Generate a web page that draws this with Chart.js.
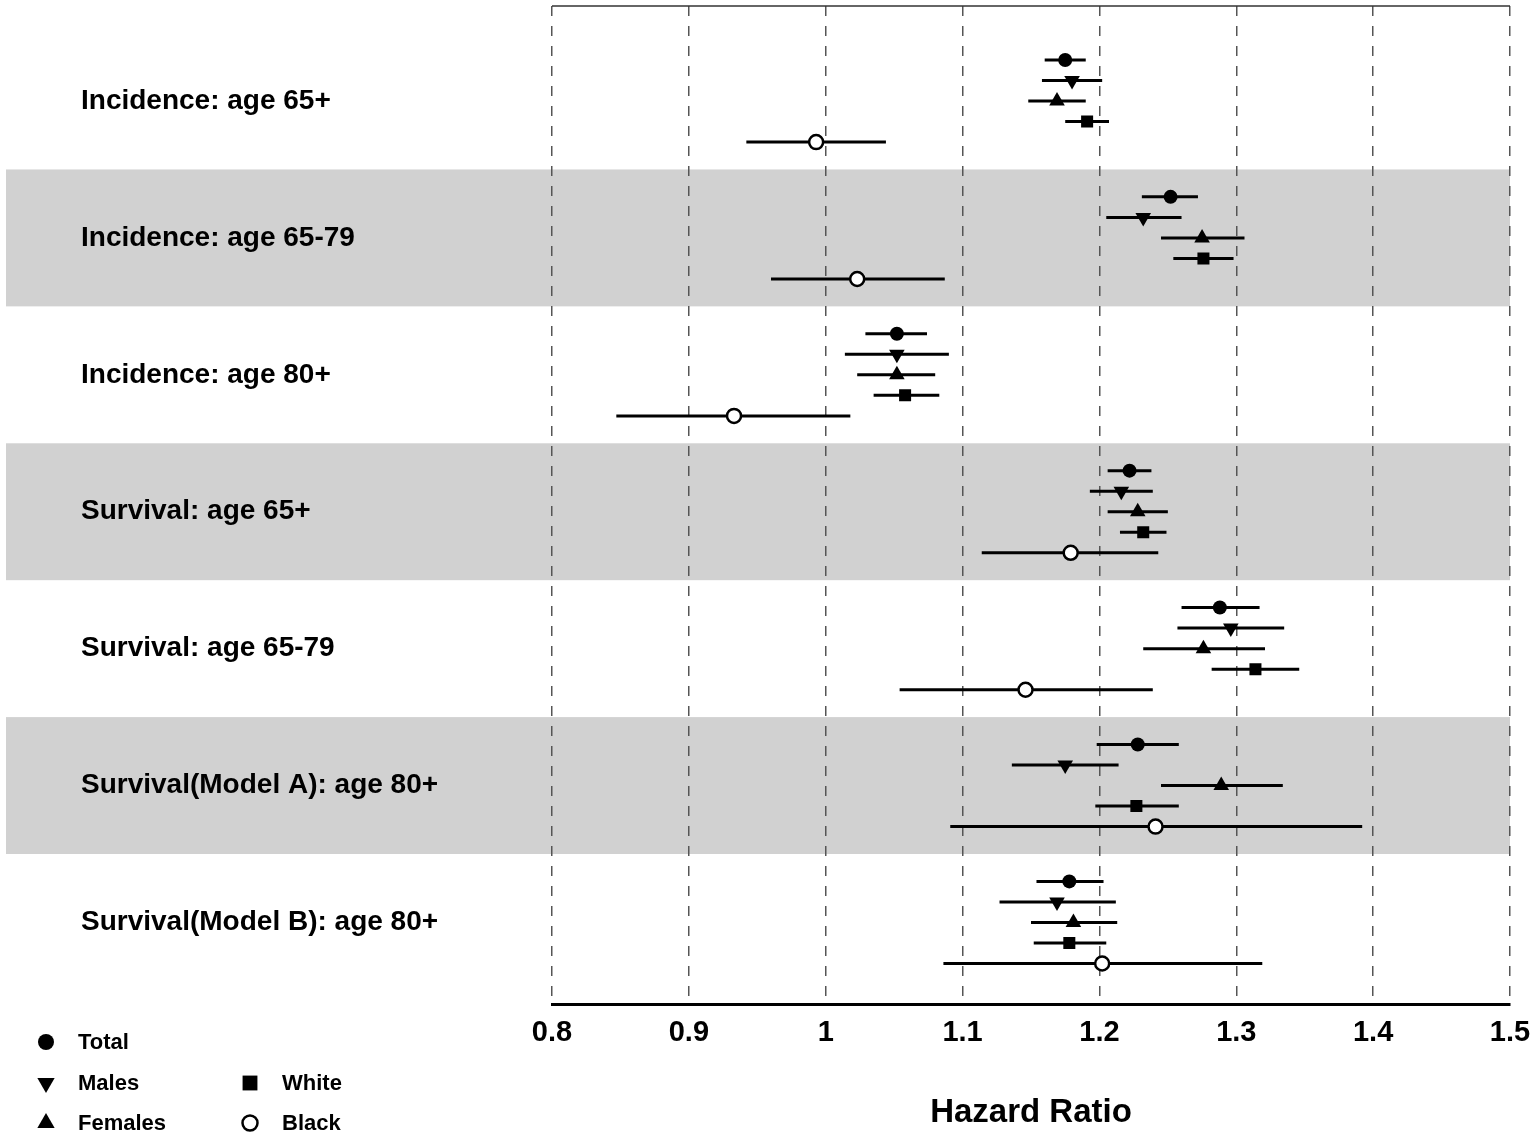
<!DOCTYPE html>
<html>
<head>
<meta charset="utf-8">
<title>Hazard Ratio</title>
<script src="https://cdn.jsdelivr.net/npm/chart.js@4.4.1/dist/chart.umd.min.js"></script>
<style>
    html, body { margin: 0; padding: 0; background: #fff; }
    #wrap { width: 1535px; height: 1139px; position: relative; }
</style>
</head>
<body>
<div id="wrap"><canvas id="myChart"></canvas></div>
<script>
// groups, top to bottom
const groups = [
    'Incidence: age 65+',
    'Incidence: age 65-79',
    'Incidence: age 80+',
    'Survival: age 65+',
    'Survival: age 65-79',
    'Survival(Model A): age 80+',
    'Survival(Model B): age 80+'
]
const xTicks = [0.8, 0.9, 1.0, 1.1, 1.2, 1.3, 1.4, 1.5]

const totalHR = [1.175, 1.252, 1.052, 1.222, 1.288, 1.228, 1.178]
const totalLo = [1.160, 1.231, 1.029, 1.206, 1.260, 1.198, 1.154]
const totalHi = [1.190, 1.272, 1.074, 1.238, 1.317, 1.258, 1.203]

const malesHR = [1.180, 1.232, 1.052, 1.216, 1.296, 1.175, 1.169]
const malesLo = [1.158, 1.205, 1.014, 1.193, 1.257, 1.136, 1.127]
const malesHi = [1.202, 1.260, 1.090, 1.239, 1.335, 1.214, 1.212]

const femalesHR = [1.169, 1.275, 1.052, 1.228, 1.276, 1.289, 1.181]
const femalesLo = [1.148, 1.245, 1.023, 1.206, 1.232, 1.245, 1.150]
const femalesHi = [1.190, 1.306, 1.080, 1.250, 1.321, 1.334, 1.213]

const whiteHR = [1.191, 1.276, 1.058, 1.232, 1.314, 1.227, 1.178]
const whiteLo = [1.175, 1.254, 1.035, 1.215, 1.282, 1.197, 1.152]
const whiteHi = [1.207, 1.298, 1.083, 1.249, 1.346, 1.258, 1.205]

const blackHR = [0.993, 1.023, 0.933, 1.179, 1.146, 1.241, 1.202]
const blackLo = [0.942, 0.960, 0.847, 1.114, 1.054, 1.091, 1.086]
const blackHi = [1.044, 1.087, 1.018, 1.243, 1.239, 1.392, 1.319]

const FONT = '"Liberation Sans", Arial, Helvetica, sans-serif'

// marker style + vertical offset inside a group (lr = legend marker radius)
const series = [
    {label: 'Total',   hr: totalHR,   lo: totalLo,   hi: totalHi,   off: -0.3,  style: 'circle',   rot: 0,   r: 7,   lr: 8,    fill: '#000', bw: 0,   col: 0, row: 0},
    {label: 'Males',   hr: malesHR,   lo: malesLo,   hi: malesHi,   off: -0.15, style: 'triangle', rot: 180, r: 9,   lr: 10,   fill: '#000', bw: 0,   col: 0, row: 1},
    {label: 'Females', hr: femalesHR, lo: femalesLo, hi: femalesHi, off: 0,     style: 'triangle', rot: 0,   r: 9,   lr: 10,   fill: '#000', bw: 0,   col: 0, row: 2},
    {label: 'White',   hr: whiteHR,   lo: whiteLo,   hi: whiteHi,   off: 0.15,  style: 'rect',     rot: 0,   r: 8.5, lr: 10.5, fill: '#000', bw: 0,   col: 1, row: 1},
    {label: 'Black',   hr: blackHR,   lo: blackLo,   hi: blackHi,   off: 0.3,   style: 'circle',   rot: 0,   r: 7,   lr: 7.5,  fill: '#fff', bw: 2.5, col: 1, row: 2}
]

const datasets = []
series.forEach(s => {
    // whiskers: one line dataset per series, broken with gaps
    const ci = []
    groups.forEach((g, i) => {
        ci.push({x: s.lo[i], y: i + 1 + s.off})
        ci.push({x: s.hi[i], y: i + 1 + s.off})
        ci.push({x: null, y: null})
    })
    datasets.push({
        type: 'line',
        label: s.label + ' CI',
        data: ci,
        borderColor: '#000',
        borderWidth: 3,
        pointRadius: 0,
        spanGaps: false,
        order: 2
    })
    datasets.push({
        type: 'scatter',
        label: s.label,
        data: s.hr.map((v, i) => ({x: v, y: i + 1 + s.off})),
        pointStyle: s.style,
        rotation: s.rot,
        pointRadius: s.r,
        pointHoverRadius: s.r,
        backgroundColor: s.fill,
        borderColor: '#000',
        borderWidth: s.bw,
        order: 1
    })
})

// grey bands behind every second group
const bands = {
    id: 'bands',
    beforeDraw(chart) {
        const {ctx, chartArea, scales: {y}} = chart
        ctx.save()
        ctx.fillStyle = '#d1d1d1'
        for (let g = 2; g <= groups.length; g += 2) {
            const top = y.getPixelForValue(g - 0.5)
            const bot = y.getPixelForValue(g + 0.5)
            ctx.fillRect(6, top, chartArea.right - 6, bot - top)
        }
        ctx.restore()
    },
    afterDraw(chart) {
        // thin frame line on top
        const {ctx, chartArea} = chart
        ctx.save()
        ctx.strokeStyle = '#333'
        ctx.lineWidth = 1.5
        ctx.beginPath()
        ctx.moveTo(chartArea.left, chartArea.top)
        ctx.lineTo(chartArea.right, chartArea.top)
        ctx.stroke()
        ctx.restore()
    }
}

// legend in two columns, bottom left
const legendBox = {
    id: 'legendBox',
    afterDraw(chart) {
        const ctx = chart.ctx
        const colX = [46, 250]
        const rowY = [1042, 1083, 1123]
        ctx.save()
        ctx.font = 'bold 22px ' + FONT
        ctx.textBaseline = 'middle'
        ctx.textAlign = 'left'
        series.forEach(s => {
            const x = colX[s.col]
            const y = rowY[s.row]
            ctx.fillStyle = s.fill
            ctx.strokeStyle = '#000'
            ctx.lineWidth = s.bw
            Chart.helpers.drawPoint(ctx, {pointStyle: s.style, rotation: s.rot, radius: s.lr, borderWidth: s.bw}, x, y)
            ctx.fillStyle = '#000'
            ctx.fillText(s.label, x + 32, y + 1)
        })
        ctx.restore()
    }
}

const ctx = document.getElementById('myChart').getContext('2d')
const myChart = new Chart(ctx, {
    data: {datasets: datasets},
    plugins: [bands, legendBox],
    options: {
        responsive: true,
        maintainAspectRatio: false,
        animation: false,
        layout: {autoPadding: false, padding: {left: 81, top: 6, right: 25, bottom: 0}},
        plugins: {
            legend: {display: false},
            tooltip: {enabled: false}
        },
        scales: {
            x: {
                type: 'linear',
                min: 0.8,
                max: 1.5,
                afterBuildTicks: (scale) => {
                    scale.ticks = xTicks.map(v => ({value: v}))
                },
                afterFit: (scale) => {
                    scale.paddingLeft = 0
                    scale.paddingRight = 0
                },
                ticks: {
                    callback: (v) => String(Math.round(v * 10) / 10),
                    font: {family: FONT, size: 29, weight: 'bold'},
                    color: '#000',
                    padding: 11,
                    maxRotation: 0,
                    autoSkip: false
                },
                grid: {
                    color: '#555',
                    lineWidth: 1.5,
                    drawTicks: false
                },
                border: {display: true, color: '#000', width: 3, dash: [10, 10]},
                title: {
                    display: true,
                    text: 'Hazard Ratio',
                    font: {family: FONT, size: 33, weight: 'bold'},
                    color: '#000',
                    padding: {top: 32, bottom: 6}
                }
            },
            y: {
                type: 'linear',
                reverse: true,
                min: 0.306,
                max: 7.6,
                afterBuildTicks: (scale) => {
                    scale.ticks = groups.map((g, i) => ({value: i + 1}))
                },
                afterFit: (scale) => {
                    scale.width = 552 - 81
                    scale.paddingTop = 0
                    scale.paddingBottom = 0
                },
                ticks: {
                    callback: (v, i) => groups[i],
                    font: {family: FONT, size: 28, weight: 'bold'},
                    color: '#000',
                    crossAlign: 'far',
                    padding: 0,
                    autoSkip: false
                },
                grid: {display: false},
                border: {display: false}
            }
        }
    }
})
</script>
</body>
</html>
